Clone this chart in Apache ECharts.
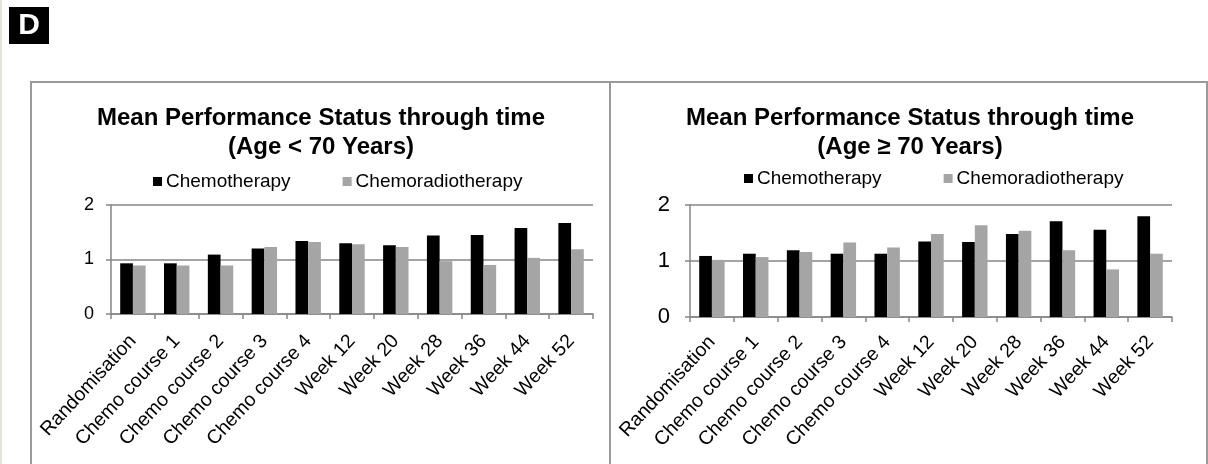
<!DOCTYPE html>
<html>
<head>
<meta charset="utf-8">
<script src="https://cdn.jsdelivr.net/npm/echarts@6/dist/echarts.min.js"></script>
<style>
  html, body { margin: 0; padding: 0; background: #fff; }
  #chart { width: 1208px; height: 464px; }
</style>
</head>
<body>
<div id="chart"></div>
<script>
// Time points of assessment
const timepoints = ['Randomisation', 'Chemo course 1', 'Chemo course 2', 'Chemo course 3', 'Chemo course 4',
  'Week 12', 'Week 20', 'Week 28', 'Week 36', 'Week 44', 'Week 52'];

// Mean performance status, age < 70 years
const youngChemo = [0.93, 0.93, 1.09, 1.20, 1.34, 1.30, 1.26, 1.44, 1.45, 1.58, 1.67];
const youngChemoRT = [0.89, 0.89, 0.89, 1.23, 1.32, 1.28, 1.23, 0.97, 0.90, 1.03, 1.19];

// Mean performance status, age >= 70 years
const oldChemo = [1.09, 1.13, 1.19, 1.13, 1.13, 1.35, 1.34, 1.48, 1.71, 1.56, 1.80];
const oldChemoRT = [1.02, 1.07, 1.16, 1.33, 1.24, 1.48, 1.64, 1.54, 1.19, 0.85, 1.13];

const yTicks = [0, 1, 2];
const seriesNames = ['Chemotherapy', 'Chemoradiotherapy'];
const panelTitles = ['Mean Performance Status through time\n(Age < 70 Years)',
  'Mean Performance Status through time\n(Age \u2265 70 Years)'];

const FONT = '"Liberation Sans", Arial, sans-serif';
const AXIS_GREY = '#868686';
const BLACK = '#000000';
const GREY = '#a5a5a5';

const chart = echarts.init(document.getElementById('chart'), null, { renderer: 'canvas' });

function xAxisFor(gridIndex, fontSize, margin) {
  return {
    type: 'category', gridIndex, data: timepoints,
    axisLine: { lineStyle: { color: AXIS_GREY, width: 1.5 } },
    axisTick: { show: true, alignWithLabel: false, length: 5, lineStyle: { color: AXIS_GREY, width: 1.5 } },
    axisLabel: { rotate: 47, fontFamily: FONT, fontSize, color: '#000', margin, interval: 0 },
    splitLine: { show: false }
  };
}

function yAxisFor(gridIndex, fontSize, margin) {
  return {
    type: 'value', gridIndex, min: yTicks[0], max: yTicks[yTicks.length - 1], interval: 1,
    axisLine: { show: true, lineStyle: { color: AXIS_GREY, width: 1.5 } },
    axisTick: { show: true, length: 5, lineStyle: { color: AXIS_GREY, width: 1.5 } },
    axisLabel: { fontFamily: FONT, fontSize, color: '#000', margin },
    splitLine: { show: true, lineStyle: { color: AXIS_GREY, width: 1.5 } }
  };
}

function barSeries(name, data, idx, color) {
  return {
    name, type: 'bar', data, xAxisIndex: idx, yAxisIndex: idx,
    barGap: '0%', barCategoryGap: '42%',
    itemStyle: { color },
    animation: false
  };
}

const option = {
  backgroundColor: '#fff',
  animation: false,
  title: [
    { text: panelTitles[0], left: 316, top: 99, textAlign: 'center',
      textStyle: { fontFamily: FONT, fontSize: 24, fontWeight: 'bold', color: '#000', lineHeight: 29 } },
    { text: panelTitles[1], left: 905, top: 99, textAlign: 'center',
      textStyle: { fontFamily: FONT, fontSize: 24, fontWeight: 'bold', color: '#000', lineHeight: 29 } }
  ],
  legend: [
    { data: seriesNames, left: 148, top: 167, icon: 'rect', itemWidth: 9, itemHeight: 9, itemGap: 52,
      textStyle: { fontFamily: FONT, fontSize: 19, color: '#000', padding: [0, 0, 0, -1] } },
    { data: seriesNames, left: 739, top: 164, icon: 'rect', itemWidth: 9, itemHeight: 9, itemGap: 62,
      textStyle: { fontFamily: FONT, fontSize: 19, color: '#000', padding: [0, 0, 0, -1] } }
  ],
  grid: [
    { left: 111, right: 615, top: 205, bottom: 150 },
    { left: 690, right: 36, top: 205, bottom: 147 }
  ],
  xAxis: [xAxisFor(0, 19.5, 24), xAxisFor(1, 19.5, 22)],
  yAxis: [yAxisFor(0, 18, 17), yAxisFor(1, 22, 20)],
  series: [
    barSeries(seriesNames[0], youngChemo, 0, BLACK),
    barSeries(seriesNames[1], youngChemoRT, 0, GREY),
    barSeries(seriesNames[0], oldChemo, 1, BLACK),
    barSeries(seriesNames[1], oldChemoRT, 1, GREY)
  ],
  graphic: [
    // thin tinted strip at the page edge
    { type: 'rect', shape: { x: 0, y: 0, width: 2, height: 464 }, style: { fill: '#e6e2d9' }, silent: true },
    // panel label
    { type: 'rect', shape: { x: 9, y: 7, width: 40, height: 37 }, style: { fill: '#000' }, silent: true },
    { type: 'text', x: 29, y: 26, style: { text: 'D', fill: '#fff', font: 'bold 30px ' + FONT, align: 'center', verticalAlign: 'middle' }, silent: true },
    // outer frame of the two panels and the divider between them
    { type: 'rect', shape: { x: 31, y: 82, width: 1176, height: 400 }, style: { fill: 'none', stroke: '#9a9a9a', lineWidth: 2 }, silent: true },
    { type: 'line', shape: { x1: 610, y1: 82, x2: 610, y2: 482 }, style: { stroke: '#9a9a9a', lineWidth: 2 }, silent: true }
  ]
};

chart.setOption(option);
</script>
</body>
</html>
